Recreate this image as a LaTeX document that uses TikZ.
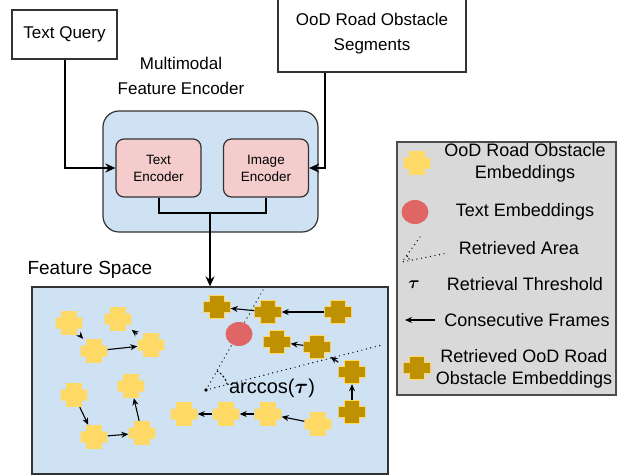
\documentclass[tikz,border=0pt]{standalone}
\usepackage{amsmath}
\usepackage{fontspec}
\setmainfont{Liberation Sans}
\usepackage{xcolor}
\usetikzlibrary{arrows.meta, positioning, calc, shapes.geometric}

\definecolor{spaceblue}{HTML}{CFE2F3}
\definecolor{encpink}{HTML}{F4CCCC}
\definecolor{embyellow}{HTML}{FFD966}
\definecolor{embdark}{HTML}{BF9000}
\definecolor{textred}{HTML}{E06666}
\definecolor{legendgray}{HTML}{D9D9D9}

\begin{document}
\begin{tikzpicture}[x=1pt, y=-1pt,
  box/.style={draw=black!80, line width=1.2pt, fill=white, font=\fontsize{17}{25}\selectfont, align=center},
  encoder/.style={draw=black!80, line width=1.2pt, fill=encpink, rounded corners=8pt, minimum width=85pt, minimum height=58pt, font=\fontsize{13.5}{17}\selectfont, align=center},
  emb/.style={minimum width=27pt, minimum height=24pt, inner sep=0pt,
    path picture={\path[#1] ([shift={(-7.8,-11.8)}]path picture bounding box.center) -- ++(15.6,0) -- ++(0,6.3) -- ++(5.5,0) -- ++(0,11) -- ++(-5.5,0) -- ++(0,6.3) -- ++(-15.6,0) -- ++(0,-6.3) -- ++(-5.5,0) -- ++(0,-11) -- ++(5.5,0) -- cycle;}},
  light/.style={emb={fill=embyellow}},
  dark/.style={emb={fill=embdark, draw=embyellow, line width=1.2pt}},
  textemb/.style={ellipse, fill=textred, minimum width=27pt, minimum height=24pt, inner sep=0pt},
  legtext/.style={font=\fontsize{18}{22}\selectfont, align=center},
  arrow/.style={-{Stealth[length=10pt, width=9pt]}, line width=2pt},
  frame/.style={-{Stealth[length=7pt, width=6pt]}, line width=1.1pt},
  area/.style={line width=1.4pt, line cap=round, dash pattern=on 0pt off 4.6pt},
]
  \useasboundingbox (0,0) rectangle (626,475);

  % inputs and encoder
  \node[box, minimum width=105pt, minimum height=49pt] (query) at (64.5,34.5) {Text Query};
  \node[box, minimum width=188pt, minimum height=76pt] (segs) at (372,34) {OoD Road Obstacle\\Segments};
  \node[font=\fontsize{17}{25}\selectfont, align=center] (enclabel) at (181,76) {Multimodal\\Feature Encoder};

  \node[draw=black!80, line width=1.2pt, fill=spaceblue, rounded corners=16pt, minimum width=215pt, minimum height=121pt] (enc) at (210.5,171.5) {};
  \node[encoder] (tenc) at (158.5,168) {Text\\Encoder};
  \node[encoder] (ienc) at (266,168) {Image\\Encoder};

  % feature space
  \node[draw=black!80, line width=1.2pt, fill=spaceblue, minimum width=356pt, minimum height=187pt] (space) at (210,380.5) {};
  \node[anchor=west, font=\fontsize{19}{23}\selectfont] (spacelabel) at (24,270) {Feature Space};

  \draw[arrow] (query.south) |- (tenc.west);
  \draw[arrow] ([xshift=-47pt]segs.south) |- (ienc.east);
  \coordinate (join) at (210,213);
  \draw[line width=2pt] (tenc.south) |- (join) -| (ienc.south);
  \draw[arrow] (join) -- (space.north);

  % retrieved area
  \coordinate (v) at (206,390);
  \coordinate (va) at (263,290);
  \coordinate (vb) at (382,345);
  \draw[area] (va) -- (v) -- (vb);
  \fill (v) circle (1.8pt);
  \draw[line width=1pt, dash pattern=on 2pt off 2pt] ($(v)+(-14.3:22)$) arc[start angle=-14.3, end angle=-60.3, radius=22];
  \node[font=\fontsize{20}{24}\selectfont] (arclabel) at (272,388) {arccos($\boldsymbol{\tau}$)};

  \node[textemb] (query-emb) at (239,334) {};

  \foreach \n/\x/\y in {a1/69/323, a2/94/351, a3/118/319, a4/151/345,
                        b1/74/395, b2/94/437, b3/142/433, b4/131/386,
                        c1/184/414, c2/226/414, c3/268/414, c4/318/424}
    \node[light] (\n) at (\x,\y) {};
  \foreach \n/\x/\y in {d1/217/307, d2/268/312, d3/338/312,
                        e1/277/342, e2/317/347, e3/352/372, e4/352/412}
    \node[dark] (\n) at (\x,\y) {};

  \foreach \s/\t in {a1/a2, a2/a4, a4/a3, b1/b2, b2/b3, b3/b4, c4/c3, c3/c2, c2/c1,
                     d3/d2, d2/d1, e4/e3, e3/e2, e2/e1}
    \draw[frame] (\s) -- (\t);

  % legend
  \node[draw=black!70, line width=1.2pt, fill=legendgray, minimum width=219pt, minimum height=253pt] (legend) at (506.5,268.5) {};
  \node[light] (klight) at (417,163) {};
  \node[legtext] (tlight) at (525,163) {OoD Road Obstacle\\Embeddings};
  \node[textemb] (ktext) at (415,212) {};
  \node[legtext] (ttext) at (525,212) {Text Embeddings};
  \coordinate (kv) at (402,262);
  \coordinate (ka) at (420,237);
  \coordinate (kb) at (448,253);
  \draw[area] (ka) -- (kv) -- (kb);
  \draw[line width=0.8pt, dash pattern=on 1.5pt off 1.5pt] ($(kv)+(-19.7:8)$) arc[start angle=-19.7, end angle=-54.2, radius=8];
  \node[legtext] (tarea) at (519,248) {Retrieved Area};
  \node[font=\fontsize{18}{22}\selectfont] (ktau) at (414,285) {$\boldsymbol{\tau}$};
  \node[legtext] (ttau) at (525,284) {Retrieval Threshold};
  \coordinate (kfrom) at (435,320);
  \coordinate (kto) at (405,320);
  \draw[frame] (kfrom) -- (kto);
  \node[legtext] (tframe) at (527,320) {Consecutive Frames};
  \node[dark] (kdark) at (417,368) {};
  \node[legtext] (tdark) at (524,369) {Retrieved OoD Road\\Obstacle Embeddings};
\end{tikzpicture}
\end{document}
